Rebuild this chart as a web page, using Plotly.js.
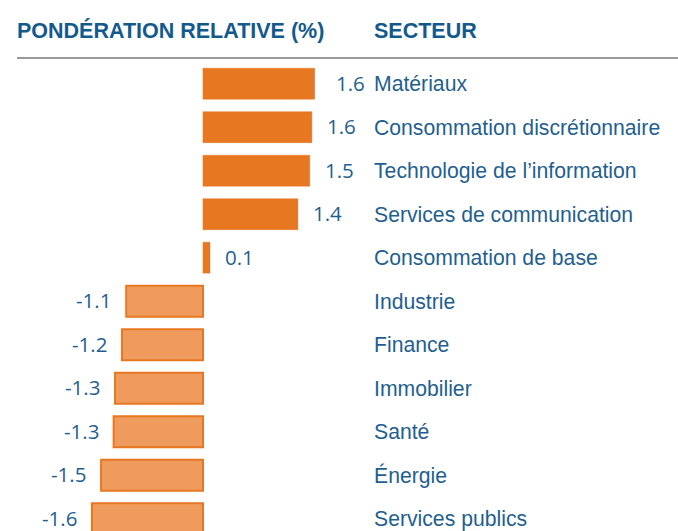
<!DOCTYPE html>
<html>
<head>
<meta charset="utf-8">
<script src="https://cdn.plot.ly/plotly-3.0.1.min.js"></script>
<style>html,body{margin:0;padding:0;background:#fff;}#chart{width:678px;height:531px;}</style>
</head>
<body>
<div id="chart"></div>
<script>
const sectors = ["Matériaux","Consommation discrétionnaire","Technologie de l’information","Services de communication","Consommation de base","Industrie","Finance","Immobilier","Santé","Énergie","Services publics"];
const weights = [1.60, 1.56, 1.53, 1.36, 0.10, -1.10, -1.16, -1.26, -1.28, -1.46, -1.59];
const weightLabels = ["1.6","1.6","1.5","1.4","0.1","-1.1","-1.2","-1.3","-1.3","-1.5","-1.6"];
const headerLeft = "PONDÉRATION RELATIVE (%)";
const headerRight = "SECTEUR";

const posColor = "#E87722";
const negFill = "#F09B5E";
const textBlue = "#1F5F8F";
const headBlue = "#135A8C";

const trace = {
  type: "bar",
  orientation: "h",
  x: weights,
  y: sectors,
  width: 0.71,
  marker: {
    color: weights.map(v => v >= 0 ? posColor : negFill),
    line: {color: posColor, width: weights.map(v => v >= 0 ? 0.5 : 2)}
  },
  hoverinfo: "skip"
};

const annotations = [];
sectors.forEach((s, i) => {
  annotations.push({
    x: 375/678, xref: "paper", y: s, yref: "y", xshift: -3,
    text: s, showarrow: false, xanchor: "left", yanchor: "middle",
    font: {family: "Liberation Sans, Arial, sans-serif", size: 21.2, color: textBlue}
  });
  const v = weights[i];
  annotations.push({
    x: v, xref: "x", y: s, yref: "y",
    text: weightLabels[i], showarrow: false,
    xanchor: v >= 0 ? "left" : "right", yanchor: "middle",
    xshift: v >= 0 ? (i === 0 ? 21 : 15) : -15,
    yshift: 1, borderpad: 0, borderwidth: 0,
    font: {family: "Open Sans, sans-serif", size: 20.5, color: textBlue}
  });
});
annotations.push({
  x: 18/678, xref: "paper", y: 1 - 31/531, yref: "paper", xshift: -3,
  text: "<b>" + headerLeft + "</b>", showarrow: false, xanchor: "left", yanchor: "middle",
  font: {family: "Liberation Sans, Arial, sans-serif", size: 21.5, color: headBlue}
});
annotations.push({
  x: 375/678, xref: "paper", y: 1 - 31/531, yref: "paper", xshift: -3,
  text: "<b>" + headerRight + "</b>", showarrow: false, xanchor: "left", yanchor: "middle",
  font: {family: "Liberation Sans, Arial, sans-serif", size: 21.5, color: headBlue}
});

const pxPerUnit = 69.8, zeroPx = 203;
const layout = {
  width: 678, height: 531,
  margin: {l: 0, r: 0, t: 0, b: 0},
  paper_bgcolor: "#fff", plot_bgcolor: "#fff",
  showlegend: false,
  xaxis: {range: [-zeroPx/pxPerUnit, (678-zeroPx)/pxPerUnit], visible: false, fixedrange: true},
  yaxis: {type: "category", range: [(531-83.7)/43.5, -83.7/43.5], visible: false, fixedrange: true},
  annotations: annotations,
  shapes: [{
    type: "line", xref: "paper", yref: "paper",
    x0: 17/678, x1: 1, y0: 1 - 58/531, y1: 1 - 58/531,
    line: {color: "#9A9A9A", width: 2}
  }]
};

Plotly.newPlot("chart", [trace], layout, {displayModeBar: false, staticPlot: true});
</script>
</body>
</html>
